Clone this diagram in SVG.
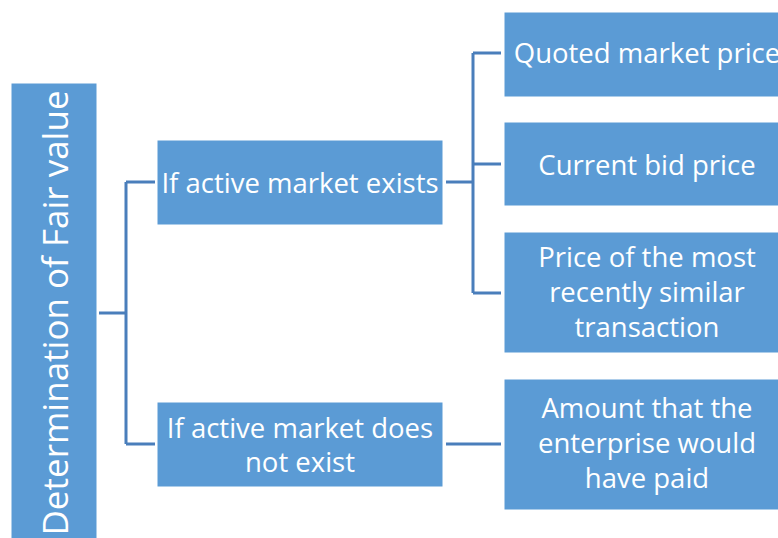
<svg xmlns="http://www.w3.org/2000/svg" width="778" height="538" viewBox="0 0 778 538">
<style>
.box{fill:#5B9BD5;stroke:#FFFFFF;stroke-width:1}
.t{font-family:"Open Sans","Noto Sans",sans-serif;font-size:27.5px;fill:#FFFFFF;text-anchor:middle}
.big{font-size:35px}
.c{fill:none;stroke:#4A7EBB;stroke-width:3}
</style>
<rect width="778" height="538" fill="#FFFFFF"/>
<g id="connectors">
<path class="c" d="M99,313 H126 M126,182 V444 M126,182 H155 M126,444 H155"/>
<path class="c" d="M446,182 H473 M473,53 V293 M473,53 H501 M473,164 H501 M473,293 H501"/>
<path class="c" d="M446,444 H501"/>
</g>
<g id="root">
<rect class="box" x="11" y="83" width="86" height="470"/>
<text class="t big" transform="translate(68,313) rotate(-90)" x="0" y="0">Determination of Fair value</text>
</g>
<g id="active">
<rect class="box" x="157" y="140" width="286" height="85"/>
<text class="t" x="300" y="193">If active market exists</text>
</g>
<g id="inactive">
<rect class="box" x="157" y="402" width="286" height="85"/>
<text class="t" x="300" y="438">If active market does</text>
<text class="t" x="300" y="472">not exist</text>
</g>
<g id="quoted">
<rect class="box" x="504" y="12" width="286" height="85"/>
<text class="t" x="647" y="63">Quoted market price</text>
</g>
<g id="bid">
<rect class="box" x="504" y="122" width="286" height="84"/>
<text class="t" x="647" y="175">Current bid price</text>
</g>
<g id="recent">
<rect class="box" x="504" y="232" width="286" height="121"/>
<text class="t" x="647" y="267">Price of the most</text>
<text class="t" x="647" y="302">recently similar</text>
<text class="t" x="647" y="337">transaction</text>
</g>
<g id="amount">
<rect class="box" x="504" y="379" width="286" height="131"/>
<text class="t" x="647" y="418">Amount that the</text>
<text class="t" x="647" y="453">enterprise would</text>
<text class="t" x="647" y="488">have paid</text>
</g>
</svg>
